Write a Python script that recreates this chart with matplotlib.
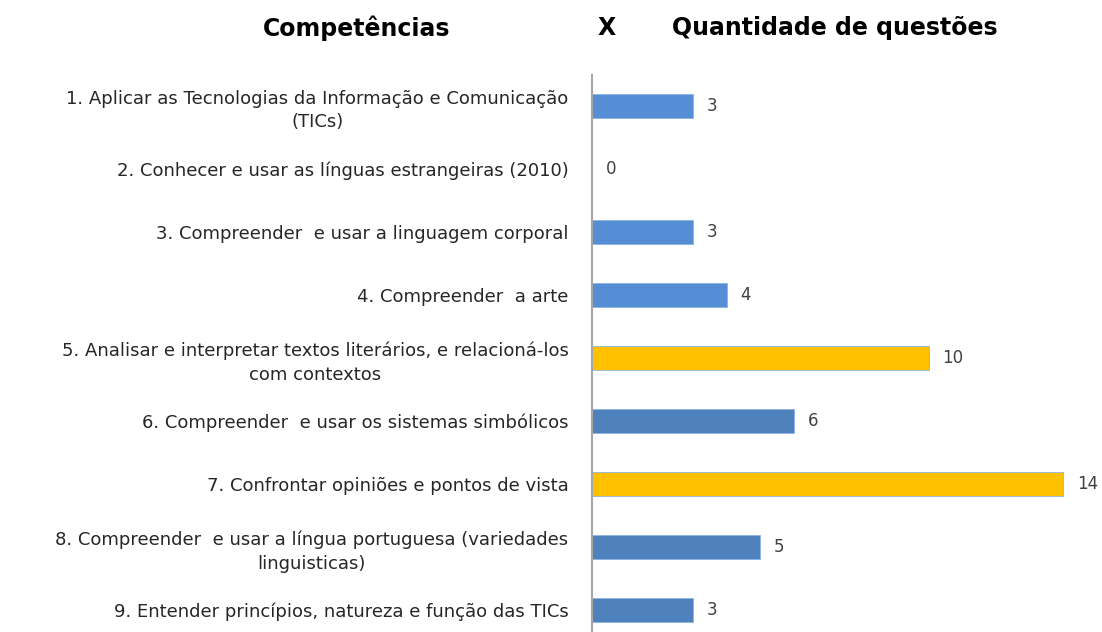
import numpy as np
import matplotlib.pyplot as plt

labels = [
    "1. Aplicar as Tecnologias da Informação e Comunicação\n(TICs)",
    "2. Conhecer e usar as línguas estrangeiras (2010)",
    "3. Compreender  e usar a linguagem corporal",
    "4. Compreender  a arte",
    "5. Analisar e interpretar textos literários, e relacioná-los\ncom contextos",
    "6. Compreender  e usar os sistemas simbólicos",
    "7. Confrontar opiniões e pontos de vista",
    "8. Compreender  e usar a língua portuguesa (variedades\nlinguisticas)",
    "9. Entender princípios, natureza e função das TICs",
]
values = [3, 0, 3, 4, 10, 6, 14, 5, 3]
colors = ["#558ED5", "#558ED5", "#558ED5", "#558ED5", "#FFC000",
          "#4F81BD", "#FFC000", "#4F81BD", "#4F81BD"]

fig = plt.figure(figsize=(11.02, 6.32), dpi=100)
ax = fig.add_axes([592 / 1102, 0.0, 1 - 592 / 1102, 1 - 75 / 632])

y = np.arange(len(values))
ax.barh(y, values, height=0.38, color=colors, edgecolor="#8EB4E3", linewidth=0.6)
for yi, v in zip(y, values):
    ax.text(v + 0.4, yi, str(v), va="center", ha="left", fontsize=12, color="#404040")

ax.set_yticks(y)
ax.set_yticklabels(labels, fontsize=13, color="#262626", ha="right",
                   multialignment="center", linespacing=1.4)
ax.tick_params(axis="y", length=0, pad=17)
ax.set_ylim(len(values) - 1 + 0.35, -0.49)
ax.set_xlim(0, 15.15)
ax.set_xticks([])
for s in ["top", "right", "bottom"]:
    ax.spines[s].set_visible(False)
ax.spines["left"].set_color("#A6A6A6")
ax.spines["left"].set_linewidth(1.5)

fig.text(357 / 1102, 1 - 28 / 632, "Competências", fontsize=17, fontweight="bold", ha="center", va="center")
fig.text(607 / 1102, 1 - 28 / 632, "X", fontsize=17, fontweight="bold", ha="center", va="center")
fig.text(835 / 1102, 1 - 28 / 632, "Quantidade de questões", fontsize=17, fontweight="bold", ha="center", va="center")

fig.savefig("out.png", dpi=100)
